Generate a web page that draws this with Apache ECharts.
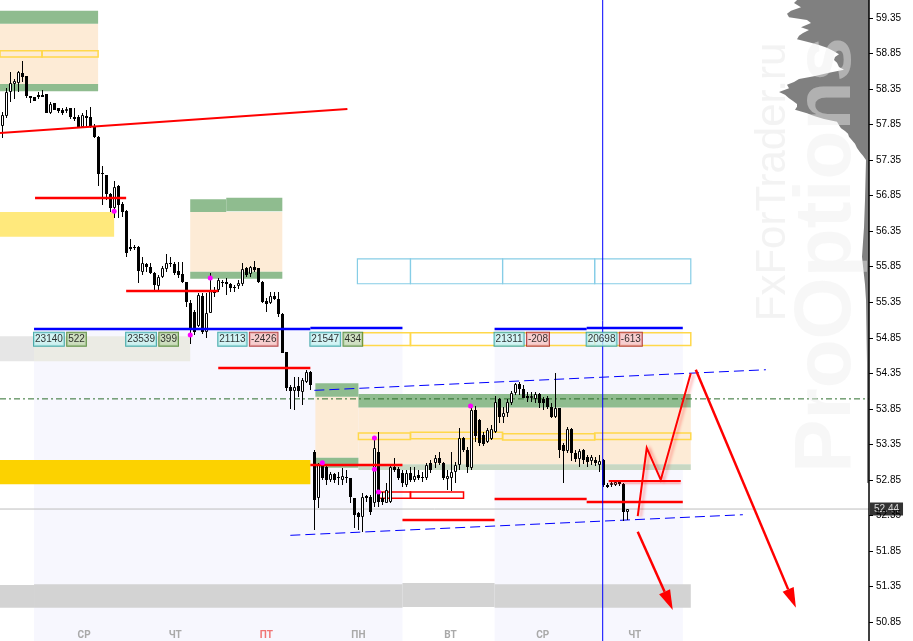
<!DOCTYPE html>
<html>
<head>
<meta charset="utf-8">
<script src="https://cdn.jsdelivr.net/npm/echarts@6/dist/echarts.min.js"></script>
<style>
html, body { margin: 0; padding: 0; background: #fff; }
#chart { width: 913px; height: 641px; }
</style>
</head>
<body>
<div id="chart"></div>
<script>
// hourly bars, [open, close, low, high]
var candles = [
  [57.83,57.98,57.66,58.03],[57.97,58.31,57.94,58.36],[58.31,58.43,58.17,58.59],[58.42,58.46,58.21,58.49],
  [58.43,58.59,58.31,58.60],[58.58,58.52,58.45,58.74],[58.53,58.25,58.22,58.53],[58.25,58.22,58.15,58.25],
  [58.24,58.18,58.18,58.24],[58.27,58.24,58.21,58.31],[58.27,58.24,58.24,58.34],[58.28,58.01,58.01,58.28],
  [58.01,58.14,58.00,58.17],[58.15,58.06,58.06,58.15],[58.08,58.04,58.01,58.08],[58.06,58.01,57.98,58.08],
  [58.04,58.07,58.01,58.10],[58.08,57.96,57.93,58.08],[57.96,57.93,57.90,58.08],[57.96,57.82,57.82,57.98],
  [57.82,57.98,57.82,58.01],[57.97,57.94,57.80,58.06],[57.96,57.82,57.80,58.10],[57.82,57.68,57.66,57.86],
  [57.68,57.15,56.99,57.69],[57.17,57.15,56.72,57.27],[57.14,56.87,56.79,57.14],[56.87,56.68,56.62,56.89],
  [56.68,56.97,56.54,57.06],[56.99,56.72,56.54,57.00],[56.73,56.62,56.55,56.76],[56.63,56.04,55.99,56.65],
  [56.13,56.10,56.07,56.24],[56.13,56.11,56.08,56.16],[56.13,55.79,55.62,56.14],[55.78,55.90,55.73,55.99],
  [55.89,55.85,55.78,55.90],[55.85,55.76,55.75,55.90],[55.76,55.59,55.52,55.78],[55.58,55.70,55.52,55.73],
  [55.70,55.83,55.69,55.86],[55.82,55.90,55.78,56.03],[55.90,55.89,55.85,55.99],[55.89,55.76,55.73,55.92],
  [55.79,55.73,55.69,55.92],[55.75,55.63,55.62,55.92],[55.63,55.35,55.28,55.63],[55.34,54.99,54.76,55.38],
  [55.21,54.93,54.89,55.24],[55.02,55.45,55.00,55.48],[55.44,54.93,54.90,55.48],[54.93,55.20,54.85,55.48],
  [55.20,55.52,55.20,55.76],[55.52,55.48,55.42,55.56],[55.52,55.66,55.49,55.69],[55.63,55.62,55.56,55.66],
  [55.63,55.61,55.45,55.69],[55.61,55.55,55.49,55.62],[55.56,55.55,55.49,55.59],[55.58,55.62,55.54,55.66],
  [55.61,55.82,55.58,55.90],[55.83,55.73,55.70,55.85],[55.75,55.85,55.70,55.86],[55.85,55.80,55.78,55.93],
  [55.83,55.63,55.62,55.83],[55.63,55.35,55.34,55.65],[55.37,55.33,55.21,55.41],[55.34,55.44,55.33,55.49],
  [55.44,55.40,55.38,55.49],[55.40,55.18,55.14,55.49],[55.18,54.64,54.64,55.20],[54.65,54.14,54.10,54.65],
  [54.16,54.10,53.85,54.19],[54.10,54.16,53.83,54.30],[54.17,54.10,54.02,54.30],[54.09,54.26,53.90,54.28],
  [54.23,54.37,54.21,54.40],[54.37,54.19,54.11,54.38],[53.24,52.57,52.14,53.27],[52.59,53.06,52.45,53.09],
  [53.06,52.88,52.85,53.09],[53.03,52.85,52.78,53.05],[52.85,52.93,52.82,52.96],[52.93,52.85,52.81,52.95],
  [52.89,52.88,52.78,52.96],[52.85,52.90,52.78,53.02],[52.89,52.88,52.81,52.99],[52.88,52.61,52.52,52.88],
  [52.59,52.36,52.17,52.59],[52.38,52.33,52.14,52.40],[52.33,52.61,52.12,52.66],[52.62,52.59,52.54,52.64],
  [52.61,52.40,52.36,52.64],[52.52,53.30,52.47,53.44],[53.24,52.54,52.47,53.52],[52.59,52.54,52.50,52.68],
  [52.52,52.71,52.52,52.81],[52.54,53.03,52.52,53.06],[53.03,52.99,52.96,53.16],[53.00,52.88,52.85,53.03],
  [52.95,52.81,52.75,52.99],[52.78,52.95,52.75,52.99],[52.95,52.85,52.82,53.03],[52.85,52.90,52.82,53.03],
  [52.92,52.88,52.85,52.99],[52.89,52.88,52.82,52.96],[52.88,53.06,52.85,53.09],[53.09,52.99,52.95,53.13],
  [53.09,53.16,53.02,53.20],[53.16,53.09,53.06,53.24],[53.09,52.88,52.85,53.10],[52.86,52.90,52.71,52.99],
  [52.88,52.96,52.69,53.24],[52.96,53.06,52.81,53.10],[53.06,53.44,52.99,53.58],[53.44,53.27,53.24,53.45],
  [53.27,53.03,52.95,53.31],[53.02,53.83,52.99,53.90],[53.83,53.47,53.38,53.89],[53.69,53.37,53.33,53.71],
  [53.48,53.35,53.33,53.52],[53.38,53.55,53.37,53.58],[53.42,53.57,53.41,53.62],[53.52,53.95,53.51,54.03],
  [53.99,53.73,53.65,54.00],[53.73,53.79,53.65,53.88],[53.79,53.95,53.73,53.99],[53.93,54.07,53.90,54.10],
  [54.07,54.20,54.04,54.21],[54.20,54.13,54.04,54.23],[54.13,54.00,54.00,54.19],[54.03,54.00,53.95,54.09],
  [54.00,54.03,53.95,54.09],[53.99,54.06,53.93,54.09],[54.06,53.93,53.86,54.07],[53.99,53.93,53.83,54.02],
  [54.00,53.88,53.85,54.03],[53.88,53.73,53.72,53.93],[53.73,53.86,53.72,54.35],[53.86,53.27,53.16,53.86],
  [53.34,53.26,52.81,53.37],[53.26,53.57,53.23,53.59],[53.57,53.23,53.12,53.58],[53.23,53.14,53.10,53.27],
  [53.14,53.26,53.03,53.28],[53.27,53.13,53.07,53.28],[53.17,53.10,53.03,53.20],[53.12,53.17,53.06,53.20],
  [53.13,53.09,53.05,53.17],[53.06,53.12,52.96,53.20],[53.13,52.78,52.75,53.14],[52.78,52.75,52.74,52.81],
  [52.78,52.81,52.75,52.84],[52.78,52.82,52.76,52.85],[52.82,52.79,52.76,52.84],[52.79,52.40,52.27,52.81],
  [52.40,52.44,52.28,52.44]
];

var days = ['СР', 'ЧТ', 'ПТ', 'ПН', 'ВТ', 'СР', 'ЧТ'];
var dayCenters = [20.5, 43.25, 66, 89, 112, 135, 158];
var priceTicks = [50.85, 51.35, 51.85, 52.35, 52.85, 53.35, 53.85, 54.35, 54.85,
  55.35, 55.85, 56.35, 56.85, 57.35, 57.85, 58.35, 58.85, 59.35];
var lastPrice = 52.44;

// zones: [fromBar, toBar, price1, price2]
var lavenderZones = [[8, 100, 54.95, 50.5], [123, 170, 54.95, 50.5]];
var grayZones = [[-0.5, 8, 54.87, 54.52]];
var grayZones2 = [[8, 47, 54.87, 54.52]];
var bottomBand = [[-0.5, 8, 51.37, 51.05], [8, 100, 51.38, 51.05], [100, 123, 51.40, 51.06], [123, 172, 51.38, 51.05]];
var goldZones = [[-0.5, 77, 53.13, 52.79]];
var lightYellowZones = [[-0.5, 28, 56.62, 56.27]];
var greenZones = [
  [-0.5, 24, 59.45, 59.27], [-0.5, 24, 58.42, 58.32],
  [47, 56, 56.80, 56.62], [56, 70, 56.82, 56.63], [47, 70, 55.78, 55.68],
  [78.25, 89, 54.21, 54.02], [78.25, 89, 53.16, 53.02],
  [89, 172, 54.06, 53.87]
];
var peachZones = [
  [-0.5, 24, 59.27, 58.42], [47, 70, 56.62, 55.78],
  [78.25, 89, 54.02, 53.16], [89, 172, 53.87, 53.07]
];
var sageZones = [[89, 172, 53.07, 52.99]];
var yellowBoxes = [
  [-0.5, 10, 58.89, 58.80], [10, 24, 58.89, 58.80],
  [90, 102, 54.92, 54.74], [102, 148, 54.92, 54.74], [146.5, 172, 54.92, 54.74],
  [89, 102, 53.51, 53.42], [102, 125, 53.52, 53.43], [125, 148, 53.50, 53.41], [148, 172, 53.51, 53.42]
];
var blueBoxes = [[88.75, 102, 55.96, 55.61], [102, 125, 55.96, 55.61], [125, 148, 55.96, 55.61], [148, 172, 55.96, 55.61]];
var redBoxes = [[94, 102, 52.68, 52.59], [102, 115.25, 52.68, 52.59]];

// horizontal levels: [fromBar, toBar, price]
var redLevels = [[8.25, 31, 56.82], [31, 54, 55.51], [54, 77, 54.42], [77, 100, 53.06],
  [100, 123, 52.28], [123, 146, 52.58], [146, 170, 52.54]];
var blueLevels = [[8, 77, 54.97], [77, 100, 54.99], [123, 146, 54.97], [146, 170, 54.99]];
var targetLevel = [[151.5, 169.5, 52.83]];

// segments: [bar1, price1, bar2, price2]
var redTrend = [[-0.5, 57.73, 86.25, 58.07]];
var channel = [[78, 54.11, 190.75, 54.40], [72, 52.07, 185, 52.36]];
var pivotLine = [[-0.5, 53.99, 216.5, 53.99]];
var priceLine = [[-0.5, lastPrice, 216.5, lastPrice]];
var nowLine = [[150, 59.7, 150, 50.5]];
var arrows = [[173.25, 54.40, 198.25, 51.05], [158.75, 52.12, 167.5, 51.02]];
var scenario = [[158.75, 52.34], [161, 53.30], [164.5, 52.85], [172, 54.35]];

var dots = [[28, 56.63], [52, 55.69], [47, 54.89], [80, 53.09], [93, 53.44], [93, 53.00], [94, 52.68], [117, 53.89]];

// session labels: [bar, price, volume, delta]
var volLabels = [
  [8, 54.83, '23140', '522'], [31, 54.83, '23539', '399'], [54, 54.83, '21113', '-2426'],
  [77, 54.83, '21547', '434'], [123, 54.83, '21311', '-208'], [146, 54.83, '20698', '-613']
];

// volume profile: [volume, price]
var profile = [
  [0, 59.70], [70, 59.63], [75, 59.56], [68, 59.50], [78, 59.45], [82, 59.41], [80, 59.36], [62, 59.32],
  [58, 59.28], [68, 59.22], [60, 59.18], [66, 59.14], [70, 59.10], [72, 59.05], [60, 59.01], [50, 58.97],
  [42, 58.93], [36, 58.89], [30, 58.84], [34, 58.80], [35, 58.76], [32, 58.72], [30, 58.66], [25, 58.62],
  [40, 58.58], [55, 58.53], [70, 58.49], [75, 58.45], [82, 58.41], [80, 58.36], [90, 58.31], [84, 58.27],
  [80, 58.22], [76, 58.18], [72, 58.14], [72, 58.10], [74, 58.06], [62, 58.01], [55, 57.97], [45, 57.93],
  [32, 57.89], [30, 57.84], [28, 57.80], [24, 57.76], [21, 57.72], [20, 57.68], [17, 57.63], [14, 57.58],
  [12, 57.52], [9, 57.46], [6, 57.41], [3, 57.35], [4, 56.79], [5, 56.40], [7, 55.99], [4, 55.60],
  [3, 55.38], [2, 54.50], [2, 52.81], [0, 52.80]
];

var chart = echarts.init(document.getElementById('chart'));

function box(api, x1, x2, p1, p2) {
  var a = api.coord([x1, p1]), b = api.coord([x2, p2]);
  return { x: Math.min(a[0], b[0]), y: Math.min(a[1], b[1]), width: Math.abs(b[0] - a[0]), height: Math.abs(b[1] - a[1]) };
}

function fillSeries(data, color, z) {
  return {
    type: 'custom', z: z, silent: true, data: data,
    renderItem: function (params, api) {
      return { type: 'rect', shape: box(api, api.value(0), api.value(1), api.value(2), api.value(3)), style: { fill: color } };
    }
  };
}

function frameSeries(data, color, width, z) {
  return {
    type: 'custom', z: z, silent: true, data: data,
    renderItem: function (params, api) {
      return { type: 'rect', shape: box(api, api.value(0), api.value(1), api.value(2), api.value(3)),
        style: { fill: 'none', stroke: color, lineWidth: width } };
    }
  };
}

function levelSeries(data, color, width, z, extra) {
  return {
    type: 'custom', z: z, silent: true, data: data,
    renderItem: function (params, api) {
      var a = api.coord([api.value(0), api.value(2)]), b = api.coord([api.value(1), api.value(2)]);
      var y = Math.round(a[1]);
      return { type: 'line', shape: { x1: a[0], y1: y, x2: b[0], y2: y },
        style: Object.assign({ stroke: color, lineWidth: width }, extra || {}) };
    }
  };
}

function segSeries(data, color, width, z, dash) {
  return {
    type: 'custom', z: z, silent: true, data: data,
    renderItem: function (params, api) {
      var a = api.coord([api.value(0), api.value(1)]), b = api.coord([api.value(2), api.value(3)]);
      return { type: 'line', shape: { x1: a[0], y1: a[1], x2: b[0], y2: b[1] },
        style: { stroke: color, lineWidth: width, lineDash: dash || null } };
    }
  };
}

var boxText = { fontSize: 10, fontFamily: 'Liberation Sans', color: '#000', borderWidth: 1, padding: [2, 1, 1, 1], lineHeight: 10 };

var option = {
  animation: false,
  backgroundColor: '#fff',
  grid: { left: 0, right: 44, top: 0, bottom: 0 },
  xAxis: [{
    type: 'value', min: -0.5, max: 216.5, z: 30,
    axisLine: { show: false, onZero: false }, axisTick: { show: false }, splitLine: { show: false },
    axisLabel: {
      inside: true, margin: 1, customValues: dayCenters,
      formatter: function (v) {
        for (var i = 0; i < dayCenters.length; i++) {
          if (Math.abs(dayCenters[i] - v) < 0.01) return days[i] === 'ПТ' ? '{r|' + days[i] + '}' : '{n|' + days[i] + '}';
        }
        return '';
      },
      rich: {
        n: { color: '#a9a9a9', fontWeight: 'bold', fontSize: 10, fontFamily: 'Roboto' },
        r: { color: '#f07575', fontWeight: 'bold', fontSize: 10, fontFamily: 'Roboto' }
      }
    }
  }, {
    type: 'value', min: 0, max: 869, inverse: true, show: false,
    axisLine: { onZero: false }
  }],
  yAxis: {
    type: 'value', position: 'right', min: 50.583, max: 59.603, z: 30,
    splitLine: { show: false },
    axisLine: { show: true, onZero: false, lineStyle: { color: '#000', width: 1.5 } },
    axisTick: { show: true, inside: false, length: 4, customValues: priceTicks, lineStyle: { color: '#000', width: 1 } },
    axisLabel: {
      customValues: priceTicks, margin: 7, color: '#000', fontSize: 10, fontFamily: 'Liberation Sans',
      formatter: function (v) { return v.toFixed(2); }
    }
  },
  graphic: [
    { type: 'text', x: 773, y: 182, rotation: Math.PI / 2, z: 50, silent: true,
      style: { text: 'FxForTrader.ru', font: '42px "Liberation Sans"', fill: '#e8e8e8', opacity: 0.5,
        textAlign: 'center', textVerticalAlign: 'middle', align: 'center', verticalAlign: 'middle' } },
    { type: 'text', x: 828, y: 255, rotation: Math.PI / 2, z: 50, silent: true,
      style: { text: 'ProOptions', font: 'bold 80px "Liberation Sans"', fill: '#eeeeee', opacity: 0.45,
        textAlign: 'center', textVerticalAlign: 'middle', align: 'center', verticalAlign: 'middle' } }
  ],
  series: [
    fillSeries(lavenderZones, '#f7f7fe', 1),
    fillSeries(grayZones, '#e6e6e6', 1),
    fillSeries(grayZones2, '#ebebe4', 1),
    fillSeries(bottomBand, '#d3d3d3', 1),
    fillSeries(goldZones, '#fcd200', 2),
    fillSeries(lightYellowZones, '#ffe97c', 2),
    fillSeries(peachZones, '#fdebd6', 2),
    fillSeries(greenZones, '#8fbc8f', 2),
    fillSeries(sageZones, '#c8d8c3', 2),
    {
      type: 'custom', xAxisIndex: 1, z: 3, silent: true, data: [0],
      renderItem: function (params, api) {
        var pts = profile.map(function (p) { return api.coord(p); });
        return { type: 'polygon', shape: { points: pts }, style: { fill: '#808080' } };
      }
    },
    frameSeries(yellowBoxes, '#ffd84a', 1.5, 4),
    frameSeries(blueBoxes, '#86cde6', 1.2, 4),
    frameSeries(redBoxes, '#ff0000', 1.5, 4),
    segSeries(pivotLine, '#2c6e2c', 1, 4, [6, 3, 2, 3]),
    segSeries(priceLine, '#bdbdbd', 1, 4),
    segSeries(channel, '#0000ff', 1, 4, [10, 5]),
    {
      type: 'custom', z: 5, silent: true,
      data: candles.map(function (d, i) { return [i, d[0], d[1], d[2], d[3]]; }),
      renderItem: function (params, api) {
        var i = api.value(0);
        var o = api.coord([i, api.value(1)]), c = api.coord([i, api.value(2)]);
        var lo = api.coord([i, api.value(3)]), hi = api.coord([i, api.value(4)]);
        var cx = Math.round(o[0]);
        var top = Math.round(Math.min(o[1], c[1])), bot = Math.round(Math.max(o[1], c[1]));
        if (bot - top < 1) bot = top + 1;
        var kids = [{ type: 'line', shape: { x1: cx + 0.5, y1: Math.round(hi[1]), x2: cx + 0.5, y2: Math.round(lo[1]) },
          style: { stroke: '#000', lineWidth: 1 } }];
        if (api.value(2) >= api.value(1)) {
          kids.push({ type: 'rect', shape: { x: cx - 0.5, y: top + 0.5, width: 2, height: Math.max(bot - top - 1, 1) },
            style: { fill: '#fff', stroke: '#000', lineWidth: 1 } });
        } else {
          kids.push({ type: 'rect', shape: { x: cx - 1, y: top, width: 3, height: bot - top }, style: { fill: '#000' } });
        }
        return { type: 'group', children: kids };
      }
    },
    segSeries(redTrend, '#ff0000', 2, 6),
    levelSeries(redLevels, '#ff0000', 2.5, 6),
    levelSeries(blueLevels, '#0000ff', 2.5, 6),
    levelSeries(targetLevel, '#ff0000', 2, 6, { shadowColor: 'rgba(255,0,0,0.35)', shadowBlur: 2, shadowOffsetY: 2 }),
    segSeries(nowLine, '#0000ff', 1, 6),
    {
      type: 'custom', z: 6, silent: true, data: [0],
      renderItem: function (params, api) {
        var pts = scenario.map(function (p) { return api.coord(p); });
        return { type: 'polyline', shape: { points: pts },
          style: { fill: 'none', stroke: '#ff0000', lineWidth: 2, shadowColor: 'rgba(255,0,0,0.35)', shadowBlur: 3, shadowOffsetX: 3, shadowOffsetY: 1 } };
      }
    },
    {
      type: 'custom', z: 6, silent: true, data: arrows,
      renderItem: function (params, api) {
        var a = api.coord([api.value(0), api.value(1)]), b = api.coord([api.value(2), api.value(3)]);
        var ang = Math.atan2(b[1] - a[1], b[0] - a[0]);
        var len = 20, half = 6;
        var bx = b[0] - len * Math.cos(ang), by = b[1] - len * Math.sin(ang);
        var l = [bx + half * Math.sin(ang), by - half * Math.cos(ang)];
        var r = [bx - half * Math.sin(ang), by + half * Math.cos(ang)];
        return { type: 'group', children: [
          { type: 'line', shape: { x1: a[0], y1: a[1], x2: bx, y2: by }, style: { stroke: '#ff0000', lineWidth: 2.5 } },
          { type: 'polygon', shape: { points: [b, l, r] }, style: { fill: '#ff0000' } }
        ] };
      }
    },
    {
      type: 'scatter', z: 7, silent: true, symbolSize: 5, data: dots,
      itemStyle: { color: '#ff00ff', opacity: 1 }
    },
    {
      type: 'scatter', z: 8, silent: true, symbolSize: 0, data: volLabels,
      label: {
        show: true, position: 'right', distance: 0,
        formatter: function (p) {
          var d = p.value[3];
          return '{c|' + p.value[2] + '} ' + (d.charAt(0) === '-' ? '{r|' + d + '}' : '{g|' + d + '}');
        },
        rich: {
          c: Object.assign({ backgroundColor: '#c8f3f3', borderColor: '#1f9a9a' }, boxText),
          g: Object.assign({ backgroundColor: '#c6d9b4', borderColor: '#3d7a1e' }, boxText),
          r: Object.assign({ backgroundColor: '#f6c3c3', borderColor: '#a41c1c' }, boxText)
        }
      }
    },
    {
      type: 'scatter', z: 9, silent: true, symbolSize: 0, data: [[216.5, lastPrice]],
      label: {
        show: true, position: 'right', distance: 1, formatter: lastPrice.toFixed(2),
        backgroundColor: '#000', color: '#fff', fontSize: 10, fontFamily: 'Liberation Sans', padding: [2, 4, 1, 4]
      }
    }
  ]
};

chart.setOption(option);
</script>
</body>
</html>
